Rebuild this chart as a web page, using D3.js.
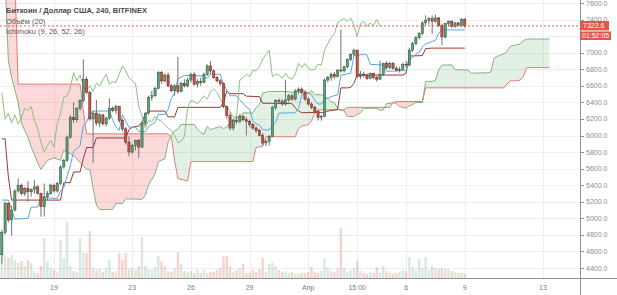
<!DOCTYPE html>
<html>
<head>
<meta charset="utf-8">
<script src="https://cdn.jsdelivr.net/npm/d3@7"></script>
<style>
  body { margin: 0; background: #fff; }
  svg { display: block; font-family: "Liberation Sans", Arial, sans-serif; }
</style>
</head>
<body>
<svg id="chart" width="617" height="295"></svg>
<script>
// 4h candles, BTC/USD Bitfinex, from 16 Mar 2018 08:00
const startTime = Date.UTC(2018, 2, 16, 8);
const barMs = 4 * 3600 * 1000;

// [open, high, low, close]
const candles = [
  [4560,4860,4450,4830],[4830,5200,4800,5180],[5180,5190,4950,4980],[4980,5150,4790,5100],
  [5100,5350,5080,5330],[5330,5480,5310,5400],[5400,5420,5280,5300],[5300,5380,5270,5360],
  [5360,5450,5200,5320],[5320,5360,5260,5350],[5350,5460,5300,5380],[5380,5400,5290,5300],
  [5300,5310,5020,5140],[5140,5420,5020,5260],[5260,5330,5220,5300],[5300,5420,5280,5400],
  [5400,5420,5310,5330],[5330,5440,5310,5420],[5420,5640,5400,5620],[5620,5720,5600,5700],
  [5700,6000,5680,5980],[5980,6250,5960,6220],[6220,6400,6150,6190],[6190,6340,6160,6330],
  [6330,6440,6300,6420],[6420,6920,6400,6680],[6680,6710,6500,6520],[6520,6540,6180,6200],
  [6200,6300,5670,6270],[6270,6430,6120,6150],[6150,6270,6100,6250],[6250,6260,6120,6140],
  [6140,6230,6110,6210],[6210,6450,6190,6330],[6330,6350,6280,6300],[6300,6370,6260,6350],
  [6350,6360,6150,6180],[6180,6200,6050,6080],[6080,6100,5890,5920],[5920,5990,5750,5800],
  [5800,5900,5780,5880],[5880,5950,5820,5940],[5940,5960,5730,5860],[5860,6170,5850,6150],
  [6150,6280,6120,6270],[6270,6480,6250,6460],[6460,6540,6420,6480],[6480,6590,6460,6570],
  [6570,6780,6560,6760],[6760,6780,6620,6660],[6660,6750,6640,6730],[6730,6760,6580,6600],
  [6600,6620,6520,6540],[6540,6620,6480,6600],[6600,6950,6500,6530],[6530,6650,6520,6630],
  [6630,6680,6580,6600],[6600,6700,6580,6670],[6670,6760,6640,6740],[6740,6770,6600,6620],
  [6620,6680,6580,6650],[6650,6700,6600,6640],[6640,6760,6630,6740],[6740,6860,6720,6840],
  [6840,6900,6740,6780],[6780,6800,6680,6700],[6700,6720,6640,6660],[6660,6680,6600,6630],
  [6630,6640,6330,6350],[6350,6360,6200,6240],[6240,6280,6060,6090],[6090,6200,6060,6180],
  [6180,6230,6140,6170],[6170,6260,6150,6230],[6230,6250,6170,6190],[6190,6220,6000,6170],
  [6170,6190,6100,6130],[6130,6150,6070,6090],[6090,6110,6030,6060],[6060,6080,5990,6000],
  [6000,6030,5880,5910],[5910,5960,5870,5930],[5930,6010,5880,5990],[5990,6360,5980,6340],
  [6340,6440,6310,6420],[6420,6450,6380,6410],[6410,6440,6360,6380],[6380,6670,6360,6430],
  [6430,6500,6400,6480],[6480,6500,6420,6440],[6440,6560,6420,6530],[6530,6580,6500,6560],
  [6560,6580,6500,6520],[6520,6540,6420,6440],[6440,6460,6360,6380],[6380,6400,6320,6340],
  [6340,6360,6270,6290],[6290,6310,6180,6220],[6220,6250,6180,6230],[6230,6690,6220,6670],
  [6670,6720,6640,6700],[6700,6760,6660,6740],[6740,6770,6680,6710],[6710,6800,6700,6790],
  [6790,7280,6760,6780],[6780,6840,6760,6830],[6830,6930,6810,6920],[6920,6990,6900,6980],
  [6980,7050,6960,7030],[7030,7040,6690,6710],[6710,6780,6680,6740],[6740,6770,6700,6730],
  [6730,6750,6670,6690],[6690,6760,6680,6750],[6750,6760,6680,6700],[6700,6720,6650,6680],
  [6680,6900,6670,6740],[6740,6880,6720,6870],[6870,6900,6800,6820],[6820,6890,6800,6870],
  [6870,6890,6800,6810],[6810,6840,6770,6790],[6790,6830,6760,6800],[6800,6880,6790,6860],
  [6860,6900,6820,6850],[6850,7060,6840,7030],[7030,7130,7010,7110],[7110,7200,7090,7180],
  [7180,7250,7160,7230],[7230,7380,7210,7360],[7360,7450,7330,7390],[7390,7430,7340,7410],
  [7410,7450,7230,7380],[7380,7460,7360,7420],[7420,7430,7310,7330],[7330,7350,7090,7190],
  [7190,7360,7170,7350],[7350,7390,7320,7380],[7380,7390,7300,7320],[7320,7370,7300,7360],
  [7360,7370,7320,7330],[7330,7420,7310,7400],[7400,7420,7300,7322.6]
];

const volumes = [
  2500,2300,2000,2300,1800,1500,1700,1200,1800,1500,700,500,1200,4000,1700,1000,
  800,600,3800,2000,5600,1200,700,600,4000,2500,2500,4700,1000,800,900,600,
  1000,1800,600,700,2500,1800,2500,900,1000,800,1200,4100,1200,900,800,1100,
  2200,1700,1200,700,600,1000,2600,1400,700,600,700,500,800,500,800,500,
  600,600,800,1000,2200,2200,1200,600,800,1000,1400,500,500,800,600,900,
  2000,600,1400,1500,1200,800,600,700,500,600,400,400,500,500,600,1100,
  600,500,700,2000,1000,700,600,1000,5000,1000,600,800,1000,1700,700,500,
  400,600,500,1100,500,1200,700,500,400,500,600,800,700,2100,1100,800,
  1900,1000,2100,800,1200,1000,900,1000,900,900,700,600,500,500,400
];

// Ichimoku lines as [bar index, price] points
const tenkan = [
  [0,5220],[2,5220],[4,4990],[8,5000],[9,5135],[11,5135],[12,5250],[17,5240],[18,5330],
  [19,5370],[20,5510],[21,5635],[22,5810],[23,5840],[24,5875],[25,6115],[26,6160],[27,6260],
  [28,6295],[33,6295],[34,6190],[35,6105],[36,6060],[37,6250],[38,6170],[39,6100],[41,6100],
  [42,6050],[44,6045],[45,6105],[46,6135],[47,6160],[48,6255],[50,6255],[51,6315],[52,6450],
  [53,6515],[54,6685],[55,6705],[56,6725],[62,6720],[63,6690],[64,6740],[67,6740],[68,6615],
  [69,6550],[70,6480],[72,6480],[73,6430],[74,6390],[75,6340],[76,6320],[77,6180],[78,6140],
  [79,6125],[80,6070],[82,6065],[83,6120],[84,6155],[85,6270],[90,6275],[91,6325],[92,6490],
  [94,6515],[95,6495],[96,6425],[97,6380],[98,6380],[99,6435],[100,6450],[101,6470],[103,6490],
  [104,6730],[107,6750],[108,6960],[109,6970],[111,6980],[112,6975],[113,6860],[117,6850],
  [118,6775],[124,6785],[125,6910],[126,6945],[127,6980],[128,7005],[129,7070],[130,7105],
  [131,7120],[132,7135],[133,7150],[134,7235],[135,7275],[142,7275]
];

const kijun = [
  [0,5960],[1,5960],[2,5500],[3,5220],[18,5220],[19,5430],[21,5430],[22,5560],[24,5560],
  [25,5720],[26,5855],[28,5855],[29,5970],[38,5970],[39,6070],[40,6100],[42,6115],[43,6160],
  [44,6260],[45,6295],[50,6295],[51,6225],[53,6225],[54,6340],[67,6340],[68,6400],[69,6535],
  [70,6505],[74,6505],[75,6475],[79,6470],[80,6390],[89,6385],[90,6335],[91,6295],[92,6275],
  [99,6280],[100,6295],[103,6315],[104,6575],[106,6575],[107,6580],[108,6630],[109,6730],
  [123,6730],[124,6750],[125,6960],[129,6965],[130,7050],[132,7055],[142,7055]
];

const spanA = [
  [0,7900],[1,7900],[2,6900],[3,6700],[4,6550],[5,6400],[6,6150],[8,5980],[9,5860],[11,5670],
  [12,5590],[14,5700],[16,5730],[18,5700],[19,5820],[22,5760],[26,5590],[27,5590],[28,5360],
  [29,5160],[30,5105],[34,5108],[35,5178],[37,5178],[38,5235],[43,5230],[44,5275],[45,5400],
  [46,5470],[47,5533],[48,5685],[50,5718],[51,5918],[52,6008],[53,6058],[54,6075],[55,6133],
  [59,6133],[60,6080],[61,6038],[62,6015],[63,6110],[64,6070],[65,6085],[67,6108],[68,6083],
  [69,6105],[70,6153],[71,6200],[72,6215],[73,6228],[74,6275],[77,6270],[78,6338],[79,6370],
  [80,6513],[82,6533],[88,6530],[89,6515],[90,6540],[93,6540],[94,6508],[95,6543],[96,6493],
  [98,6493],[99,6468],[100,6448],[101,6408],[102,6398],[103,6328],[104,6305],[105,6298],
  [106,6230],[108,6228],[109,6255],[110,6273],[111,6328],[115,6328],[116,6305],[117,6310],
  [118,6383],[120,6395],[121,6385],[122,6350],[124,6330],[125,6358],[126,6373],[127,6398],
  [129,6398],[130,6653],[132,6653],[133,6665],[134,6795],[135,6850],[138,6853],[139,6795],
  [143,6790],[144,6753],[149,6758],[150,6768],[151,6935],[152,6955],[153,6973],[154,6985],
  [155,7018],[156,7078],[157,7085],[158,7095],[159,7103],[160,7145],[161,7165],[168,7165]
];

const spanB = [
  [0,7900],[4,7900],[5,6620],[24,6620],[25,6300],[26,6020],[51,6020],[52,5980],[53,5700],
  [54,5480],[57,5450],[58,5685],[77,5685],[78,5855],[80,5870],[81,5985],[90,5985],[91,6085],
  [92,6115],[94,6130],[95,6175],[96,6275],[97,6310],[105,6310],[106,6340],[119,6340],
  [120,6400],[121,6410],[129,6410],[130,6575],[154,6575],[155,6625],[156,6660],[158,6660],
  [159,6670],[160,6720],[161,6820],[168,6820]
];
const chikouShift = 26;

// 7200.0 sits under the countdown badge, as in the original
const priceTicks = d3.range(4400, 7601, 200);
const priceLabels = priceTicks.filter(v => v !== 7200);
const timeTicks = [
  [Date.UTC(2018,2,19), "19"], [Date.UTC(2018,2,23), "23"], [Date.UTC(2018,2,26), "26"],
  [Date.UTC(2018,2,29), "29"], [Date.UTC(2018,3,1), "Апр"], [Date.UTC(2018,3,3,12), "15:00"],
  [Date.UTC(2018,3,6), "6"], [Date.UTC(2018,3,9), "9"], [Date.UTC(2018,3,13), "13"]
];
const lastPrice = 7322.6;
const countdown = "01:52:05";
const legend = ["Биткоин / Доллар США, 240, BITFINEX", "Объём (20)", "Ichimoku (9, 26, 52, 26)"];

const plotRight = 580, plotBottom = 278;
const barTime = (i) => new Date(startTime + i * barMs);

const x = d3.scaleUtc()
  .domain([new Date(Date.UTC(2018,2,19)), new Date(Date.UTC(2018,3,13))])
  .range([54, 543]);
const y = d3.scaleLinear().domain([4400, 7600]).range([268, 3]);
const yVol = d3.scaleLinear().domain([0, 5600]).range([plotBottom, 222]);
const bx = (i) => x(barTime(i));

const svg = d3.select("#chart");
const defs = svg.append("defs");
defs.append("clipPath").attr("id", "plot")
  .append("rect").attr("width", plotRight).attr("height", plotBottom);

const areaAbove = d3.area().x(d => bx(d[0])).y0(-60).y1(d => y(d[1]));
const areaBelow = d3.area().x(d => bx(d[0])).y0(plotBottom + 60).y1(d => y(d[1]));
const line = d3.line().x(d => bx(d[0])).y(d => y(d[1]));

defs.append("clipPath").attr("id", "aboveB").append("path").attr("d", areaAbove(spanB));
defs.append("clipPath").attr("id", "aboveA").append("path").attr("d", areaAbove(spanA));

// grid
const grid = svg.append("g").attr("stroke", "#eceef1").attr("stroke-width", 1);
grid.selectAll("line.h").data(priceTicks).join("line")
  .attr("x1", 0).attr("x2", plotRight)
  .attr("y1", d => Math.round(y(d)) + 0.5).attr("y2", d => Math.round(y(d)) + 0.5);
grid.selectAll("line.v").data(timeTicks).join("line")
  .attr("y1", 0).attr("y2", plotBottom)
  .attr("x1", d => Math.round(x(new Date(d[0]))) + 0.5)
  .attr("x2", d => Math.round(x(new Date(d[0]))) + 0.5);

const plot = svg.append("g").attr("clip-path", "url(#plot)");

// cloud
plot.append("g").attr("clip-path", "url(#aboveB)")
  .append("path").attr("d", areaBelow(spanA)).attr("fill", "rgba(67,160,71,0.15)");
plot.append("g").attr("clip-path", "url(#aboveA)")
  .append("path").attr("d", areaBelow(spanB)).attr("fill", "rgba(239,83,80,0.22)");

// volume
plot.append("g").selectAll("rect").data(volumes).join("rect")
  .attr("x", (d, i) => bx(i) - 1.2)
  .attr("width", 2.4)
  .attr("y", d => yVol(d))
  .attr("height", d => plotBottom - yVol(d))
  .attr("fill", (d, i) => candles[i][3] >= candles[i][0] ? "#6ba583" : "#d75442")
  .attr("fill-opacity", 0.25);

// ichimoku lines
const lines = [
  [spanA, "#86b27c"], [spanB, "#e57a74"], [kijun, "#9b3a33"], [tenkan, "#5aa6e0"]
];
lines.forEach(([pts, color]) => {
  plot.append("path").attr("d", line(pts)).attr("fill", "none")
    .attr("stroke", color).attr("stroke-width", 1);
});
const chikou = candles.slice(chikouShift).map((c, j) => [j, c[3]]);
plot.append("path").attr("d", line(chikou)).attr("fill", "none")
  .attr("stroke", "#8fc07f").attr("stroke-width", 1);

// candles
const cg = plot.append("g").selectAll("g").data(candles).join("g");
cg.append("line")
  .attr("x1", (d, i) => bx(i)).attr("x2", (d, i) => bx(i))
  .attr("y1", d => y(d[1])).attr("y2", d => y(d[2]))
  .attr("stroke", "#737375").attr("stroke-width", 1);
cg.append("rect")
  .attr("x", (d, i) => bx(i) - 1.1)
  .attr("width", 2.2)
  .attr("y", d => y(Math.max(d[0], d[3])))
  .attr("height", d => Math.max(0.8, Math.abs(y(d[0]) - y(d[3]))))
  .attr("fill", d => d[3] >= d[0] ? "#5e9e78" : "#c9564a")
  .attr("stroke", d => d[3] >= d[0] ? "#225437" : "#5b1a13")
  .attr("stroke-width", 0.5);

// last price line
svg.append("line")
  .attr("x1", 0).attr("x2", plotRight)
  .attr("y1", y(lastPrice)).attr("y2", y(lastPrice))
  .attr("stroke", "#e0574f").attr("stroke-width", 1).attr("stroke-dasharray", "2,2");

// axes
svg.append("line").attr("x1", plotRight + 0.5).attr("x2", plotRight + 0.5)
  .attr("y1", 0).attr("y2", 295).attr("stroke", "#8f9399");
svg.append("line").attr("x1", 0).attr("x2", 617)
  .attr("y1", plotBottom + 0.5).attr("y2", plotBottom + 0.5).attr("stroke", "#8f9399");

const yAxis = svg.append("g");
yAxis.selectAll("line").data(priceTicks).join("line")
  .attr("x1", plotRight).attr("x2", plotRight + 4)
  .attr("y1", d => Math.round(y(d)) + 0.5).attr("y2", d => Math.round(y(d)) + 0.5)
  .attr("stroke", "#8f9399");
yAxis.selectAll("text").data(priceLabels).join("text")
  .attr("x", 586).attr("y", d => y(d) + 2.5)
  .attr("font-size", 7).attr("fill", "#8a8d91")
  .text(d => d.toFixed(1));

const xAxis = svg.append("g");
xAxis.selectAll("text").data(timeTicks).join("text")
  .attr("x", d => x(new Date(d[0]))).attr("y", 290)
  .attr("text-anchor", "middle").attr("font-size", 7).attr("fill", "#7a7d82")
  .text(d => d[1]);

// price badges
const badge = svg.append("g");
badge.append("rect").attr("x", 580).attr("y", y(lastPrice) - 5).attr("width", 29).attr("height", 9.5)
  .attr("fill", "#e0574f");
badge.append("text").attr("x", 583).attr("y", y(lastPrice) + 2.5)
  .attr("font-size", 7).attr("fill", "#fff").text(lastPrice.toFixed(1));
badge.append("rect").attr("x", 580).attr("y", y(lastPrice) + 5.5).attr("width", 31).attr("height", 8.5)
  .attr("fill", "#e0574f");
badge.append("text").attr("x", 582).attr("y", y(lastPrice) + 12.3)
  .attr("font-size", 7).attr("fill", "#fff").text(countdown);

// legend
svg.append("g").selectAll("text").data(legend).join("text")
  .attr("x", 6).attr("y", (d, i) => [12.5, 23.5, 33.5][i])
  .attr("font-size", 7.5)
  .attr("font-weight", (d, i) => i === 0 ? "bold" : "normal")
  .attr("fill", (d, i) => i === 0 ? "#4a4a4a" : "#5a5a5a")
  .text(d => d);
</script>
</body>
</html>
